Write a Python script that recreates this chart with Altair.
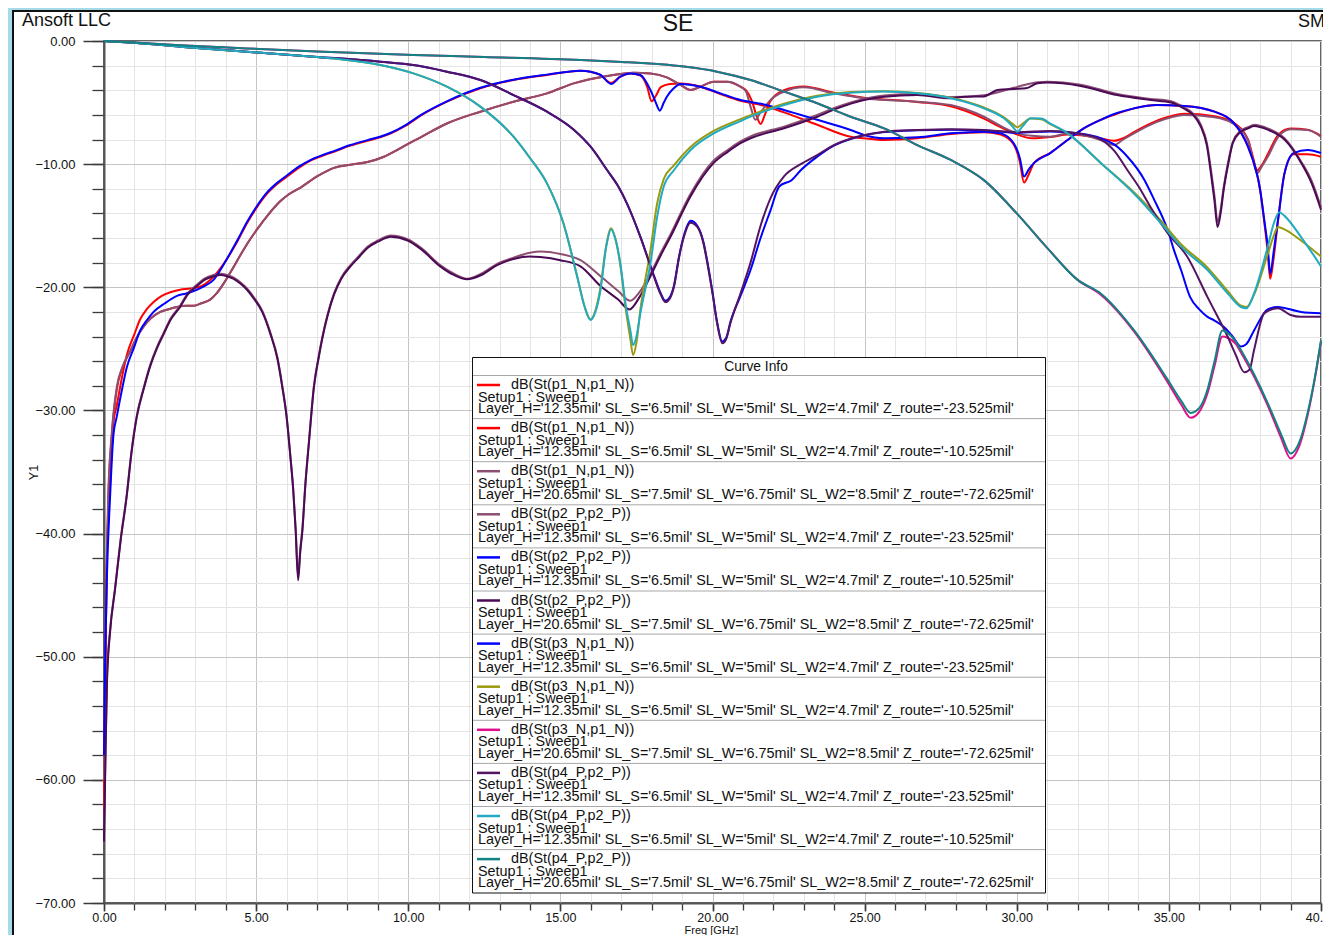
import altair as alt
import pandas as pd

# ---------------- text ----------------
HEADER_LEFT = "Ansoft LLC"
HEADER_TITLE = "SE"
HEADER_RIGHT = "SMA"
X_TITLE = "Freq [GHz]"
Y_TITLE = "Y1"
LEGEND_TITLE = "Curve Info"

X_MAJOR = [0, 5, 10, 15, 20, 25, 30, 35, 40]
X_MINOR = list(range(0, 41))
Y_MAJOR = [-70, -60, -50, -40, -30, -20, -10, 0]
Y_MINOR = list(range(-70, 1, 2))

# ---------------- curves: (freq GHz, dB) ----------------
RED_1 = [(0,-63),(0.04,-52),(0.14,-37.5),(0.25,-32.3),(0.42,-28.3),(0.6,-26.6),(0.86,-25.2),(1.05,-24.2),(1.3,-23.2),(1.55,-22.5),(1.85,-22.0),(2.1,-21.8),(2.4,-21.6),(2.7,-21.5),(2.95,-21.5),(3.2,-21.3),(3.49,-21.0),(3.7,-20.5),(3.93,-19.7),(4.2,-18.6),(4.48,-17.4),(4.75,-16.3),(5.03,-15.3),(5.4,-14.1),(5.8,-13.0),(6.1,-12.4),(6.46,-11.9),(7.0,-11.0),(7.56,-10.3),(8.1,-10.05),(8.66,-9.83),(9.2,-9.4),(9.6,-8.9),(9.98,-8.37),(10.42,-7.8),(11.27,-6.7),(12.37,-5.74),(13.46,-4.93),(14.56,-4.25),(15.44,-3.44),(16.54,-2.84),(17.41,-2.57),(17.96,-2.63),(18.5,-2.95),(18.95,-3.57),(19.28,-3.98),(19.6,-3.71),(20.04,-3.3),(20.48,-3.3),(20.92,-3.71),(21.1,-4.0),(21.3,-4.9),(21.45,-6.1),(21.58,-6.74),(21.72,-6.0),(21.9,-4.9),(22.35,-4.0),(23.0,-3.7),(23.99,-4.2),(24.98,-4.6),(26.73,-4.95),(27.83,-5.3),(28.92,-6.3),(29.47,-7.0),(30.02,-7.6),(30.5,-7.9),(31.1,-7.8),(31.7,-7.6),(32.76,-7.9),(33.2,-8.1),(33.5,-7.9),(33.85,-7.4),(34.63,-6.45),(35.5,-5.9),(36.5,-6.1),(37.1,-6.6),(37.6,-8.0),(37.75,-9.3),(37.9,-10.5),(38.05,-10.1),(38.25,-9.2),(38.6,-7.6),(39.0,-7.1),(39.56,-7.2),(40,-7.7)]

RED_2 = [(0,-62),(0.04,-52),(0.09,-42.7),(0.2,-36),(0.31,-31.0),(0.42,-29.6),(0.6,-27.2),(0.75,-25.5),(1.0,-23.8),(1.19,-22.6),(1.4,-21.8),(1.63,-21.2),(1.9,-20.7),(2.18,-20.4),(2.5,-20.2),(2.84,-20.1),(3.2,-19.9),(3.49,-19.4),(3.75,-18.7),(4.04,-17.7),(4.4,-16.2),(4.7,-14.8),(5.0,-13.6),(5.36,-12.4),(5.7,-11.6),(6.02,-11.0),(6.4,-10.3),(6.8,-9.7),(7.2,-9.3),(7.6,-8.95),(8.1,-8.5),(8.66,-8.1),(9.1,-7.8),(9.43,-7.5),(9.9,-6.9),(10.42,-6.05),(11.27,-4.93),(12.37,-3.84),(13.46,-3.17),(14.56,-2.76),(15.66,-2.41),(15.99,-2.49),(16.32,-2.76),(16.67,-3.4),(16.97,-2.9),(17.3,-2.63),(17.63,-2.8),(17.85,-3.7),(18.0,-4.9),(18.15,-4.4),(18.3,-3.75),(18.6,-3.5),(18.95,-3.45),(19.6,-3.71),(20.26,-4.3),(20.92,-4.85),(21.6,-5.2),(22.35,-5.8),(23.44,-6.8),(24.54,-7.77),(24.98,-7.9),(25.64,-8.04),(26.73,-7.9),(27.83,-7.55),(28.92,-7.4),(29.47,-7.6),(29.9,-8.4),(30.1,-9.8),(30.24,-11.5),(30.4,-10.8),(30.57,-9.9),(31.1,-9.1),(31.67,-8.04),(32.2,-7.1),(32.76,-6.4),(33.3,-5.9),(33.86,-5.47),(34.6,-5.2),(35.5,-5.28),(36.5,-5.74),(37.15,-6.7),(37.6,-8.58),(38.0,-12.1),(38.15,-15.0),(38.25,-17.2),(38.33,-19.3),(38.45,-17.5),(38.6,-14.3),(38.8,-10.75),(39.1,-9.2),(39.56,-9.2),(40,-9.4)]

MAUVE_3 = [(0,-64),(0.05,-57.5),(0.1,-51.5),(0.2,-47.8),(0.36,-44.5),(0.55,-40.4),(0.75,-36.8),(0.9,-33.4),(1.08,-30.4),(1.3,-28.2),(1.52,-26.3),(1.75,-24.8),(1.96,-23.7),(2.2,-22.5),(2.5,-21.5),(2.75,-20.5),(3.05,-19.8),(3.3,-19.3),(3.6,-19.0),(3.85,-18.9),(4.04,-19.0),(4.25,-19.2),(4.48,-19.6),(4.7,-20.1),(4.92,-20.8),(5.2,-21.9),(5.47,-23.7),(5.7,-25.7),(5.86,-28.0),(6.0,-30.4),(6.13,-33.8),(6.22,-36.4),(6.3,-39.6),(6.38,-43.5),(6.45,-41.3),(6.52,-39.6),(6.62,-35.9),(6.74,-32.4),(6.9,-28.0),(7.05,-25.7),(7.18,-24.0),(7.35,-22.2),(7.56,-20.5),(7.8,-19.2),(8.1,-18.2),(8.4,-17.4),(8.66,-16.7),(9.0,-16.2),(9.43,-15.8),(9.98,-16.1),(10.42,-16.8),(11.05,-18.2),(11.5,-18.9),(11.93,-19.3),(12.4,-18.9),(12.92,-18.1),(13.46,-17.6),(14.0,-17.2),(14.34,-17.1),(15.0,-17.3),(15.66,-17.8),(16.32,-19.1),(16.9,-20.3),(17.3,-21.1),(17.6,-20.4),(17.96,-18.9),(18.3,-17.2),(18.62,-15.7),(19.28,-12.4),(20.04,-9.7),(20.5,-8.85),(20.92,-8.15),(21.25,-7.75),(22.35,-6.95),(23.44,-6.0),(24.1,-5.35),(24.98,-4.7),(25.64,-4.42),(26.73,-4.3),(27.83,-4.55),(28.92,-4.4),(29.9,-3.8),(30.68,-3.35),(31.0,-3.3),(32.1,-3.55),(33.3,-4.3),(34.4,-4.7),(35.07,-4.9),(35.5,-5.4),(35.8,-5.9),(36.05,-6.8),(36.25,-8.3),(36.38,-10.4),(36.5,-12.6),(36.6,-14.7),(36.7,-13.7),(36.8,-11.9),(36.95,-9.8),(37.1,-8.2),(37.35,-7.3),(37.6,-7.0),(37.8,-6.8),(38.25,-7.1),(38.8,-7.9),(39.35,-9.8),(39.7,-11.4),(40,-13.5)]

MAUVE_4 = [(0,-60),(0.04,-50),(0.14,-36.9),(0.25,-32),(0.42,-28.1),(0.6,-26.5),(0.86,-25.2),(1.05,-24.2),(1.3,-23.2),(1.55,-22.5),(1.85,-22.0),(2.1,-21.8),(2.4,-21.6),(2.7,-21.5),(2.95,-21.5),(3.2,-21.3),(3.49,-21.0),(3.7,-20.5),(3.93,-19.7),(4.2,-18.6),(4.48,-17.4),(4.75,-16.3),(5.03,-15.3),(5.4,-14.1),(5.8,-13.0),(6.1,-12.4),(6.46,-11.9),(7.0,-11.0),(7.56,-10.3),(8.1,-10.05),(8.66,-9.83),(9.2,-9.4),(9.6,-8.9),(9.98,-8.37),(10.42,-7.8),(11.27,-6.7),(12.37,-5.74),(13.46,-4.93),(14.56,-4.25),(15.44,-3.44),(16.54,-2.84),(17.41,-2.57),(17.96,-2.63),(18.5,-2.95),(18.95,-3.57),(19.28,-3.98),(19.6,-3.71),(20.04,-3.3),(20.48,-3.3),(20.92,-3.71),(21.1,-4.1),(21.25,-5.33),(21.41,-6.4),(21.55,-5.9),(21.7,-5.4),(21.9,-4.8),(22.35,-4.11),(23.0,-3.76),(23.99,-4.25),(24.98,-4.65),(26.73,-4.93),(27.83,-5.2),(28.92,-6.15),(29.47,-6.9),(30.02,-7.5),(30.5,-7.7),(31.1,-7.77),(31.7,-7.5),(32.76,-8.04),(33.2,-8.45),(33.5,-8.0),(33.85,-7.5),(34.63,-6.55),(35.5,-6.0),(36.5,-6.2),(37.1,-6.7),(37.6,-8.04),(37.75,-9.5),(37.9,-10.75),(38.05,-10.2),(38.25,-9.4),(38.6,-7.77),(39.0,-7.17),(39.56,-7.23),(40,-7.77)]

BLUE_5 = [(0,-58),(0.04,-50),(0.09,-44),(0.2,-37),(0.31,-32),(0.42,-30.5),(0.6,-28.2),(0.75,-26.5),(1.0,-24.8),(1.19,-23.5),(1.4,-22.7),(1.63,-22.0),(2.0,-21.3),(2.4,-20.7),(2.7,-20.5),(3.05,-20.2),(3.3,-19.9),(3.6,-19.4),(3.8,-18.7),(4.04,-17.7),(4.4,-16.1),(4.7,-14.7),(5.0,-13.5),(5.36,-12.3),(5.7,-11.5),(6.02,-10.9),(6.4,-10.2),(6.8,-9.65),(7.2,-9.25),(7.6,-8.9),(8.1,-8.45),(8.66,-8.05),(9.1,-7.75),(9.43,-7.45),(9.9,-6.85),(10.42,-6.0),(11.27,-4.9),(12.37,-3.8),(13.46,-3.14),(14.56,-2.73),(15.66,-2.41),(15.99,-2.49),(16.32,-2.76),(16.67,-3.49),(16.97,-2.9),(17.3,-2.63),(17.63,-2.76),(17.96,-3.98),(18.12,-4.9),(18.27,-5.66),(18.4,-5.0),(18.5,-4.52),(18.7,-3.9),(18.95,-3.49),(19.6,-3.71),(20.26,-4.25),(20.92,-4.79),(21.6,-5.1),(22.35,-5.6),(23.44,-6.4),(24.54,-7.23),(24.98,-7.63),(25.64,-7.9),(26.73,-7.82),(27.83,-7.5),(28.92,-7.36),(29.47,-7.5),(29.9,-8.3),(30.1,-9.5),(30.24,-11.0),(30.4,-10.4),(30.57,-9.9),(31.1,-9.1),(31.67,-8.04),(32.2,-7.1),(32.76,-6.4),(33.3,-5.85),(33.86,-5.47),(34.6,-5.2),(35.5,-5.28),(36.5,-5.74),(37.15,-6.7),(37.6,-8.58),(38.0,-12.1),(38.15,-14.8),(38.25,-16.7),(38.33,-18.9),(38.45,-17.0),(38.6,-14.3),(38.8,-10.75),(39.1,-9.1),(39.56,-8.85),(40,-9.1)]

PURPLE_6 = [(0,-65),(0.05,-58),(0.1,-52),(0.2,-48),(0.36,-44.6),(0.55,-40.5),(0.75,-36.9),(0.9,-33.5),(1.08,-30.5),(1.3,-28.3),(1.52,-26.4),(1.75,-24.9),(1.96,-23.8),(2.2,-22.6),(2.5,-21.6),(2.75,-20.6),(3.05,-19.9),(3.3,-19.4),(3.6,-19.1),(3.85,-19.0),(4.04,-19.1),(4.25,-19.3),(4.48,-19.7),(4.7,-20.2),(4.92,-20.9),(5.2,-22.0),(5.47,-23.8),(5.7,-25.8),(5.86,-28.1),(6.0,-30.5),(6.13,-33.9),(6.22,-36.5),(6.3,-39.8),(6.38,-43.8),(6.45,-41.5),(6.52,-39.8),(6.62,-36.0),(6.74,-32.5),(6.9,-28.1),(7.05,-25.8),(7.18,-24.1),(7.35,-22.3),(7.56,-20.6),(7.8,-19.3),(8.1,-18.3),(8.4,-17.5),(8.66,-16.8),(9.0,-16.3),(9.43,-15.9),(9.98,-16.2),(10.42,-16.9),(11.05,-18.3),(11.5,-19.0),(11.93,-19.35),(12.4,-19.0),(12.92,-18.2),(13.46,-17.7),(14.0,-17.5),(14.34,-17.55),(15.0,-17.8),(15.66,-18.3),(16.32,-19.9),(16.9,-21.0),(17.27,-21.8),(17.6,-20.8),(17.96,-19.1),(18.3,-17.4),(18.62,-15.9),(19.28,-12.6),(20.04,-9.9),(20.5,-9.0),(20.92,-8.3),(21.25,-7.9),(22.35,-7.09),(23.44,-6.15),(24.1,-5.47),(24.98,-4.79),(25.64,-4.52),(26.73,-4.39),(27.83,-4.65),(28.27,-4.52),(28.92,-4.5),(29.37,-3.98),(29.9,-3.9),(30.3,-3.84),(30.68,-3.44),(31.0,-3.38),(32.1,-3.65),(33.3,-4.39),(34.4,-4.79),(35.07,-5.0),(35.5,-5.5),(35.8,-6.0),(36.05,-6.96),(36.25,-8.5),(36.38,-10.7),(36.5,-13.0),(36.6,-15.1),(36.7,-14.0),(36.8,-12.1),(36.95,-10.0),(37.1,-8.3),(37.35,-7.4),(37.6,-7.1),(37.8,-6.9),(38.25,-7.2),(38.8,-8.0),(39.35,-9.9),(39.7,-11.6),(40,-13.7)]

BLUE_7 = [(0,0),(1.0,-0.15),(2.5,-0.46),(4.69,-0.87),(6.89,-1.27),(9.08,-1.68),(10.17,-1.95),(11.27,-2.49),(12.37,-3.17),(13.46,-4.39),(14.56,-5.74),(15.44,-7.2),(16.0,-8.6),(16.54,-10.5),(16.9,-11.8),(17.19,-13.2),(17.63,-15.9),(18.07,-19.0),(18.3,-20.5),(18.45,-21.1),(18.6,-20.8),(18.73,-19.9),(18.9,-17.5),(19.06,-15.8),(19.28,-14.6),(19.5,-15.0),(19.7,-16.3),(19.83,-17.9),(20.0,-20.4),(20.15,-22.8),(20.32,-24.4),(20.45,-24.1),(20.59,-22.8),(20.92,-20.7),(21.25,-18.6),(21.58,-16.0),(21.9,-13.8),(22.2,-11.8),(22.6,-11.3),(22.9,-10.5),(23.44,-9.4),(23.99,-8.5),(24.76,-7.8),(25.64,-7.4),(26.73,-7.25),(27.83,-7.2),(28.92,-7.25),(30.02,-7.45),(31.1,-7.35),(32.0,-7.5),(32.76,-7.9),(33.2,-8.4),(33.64,-9.4),(34.2,-11.3),(34.5,-12.8),(34.96,-15.35),(35.17,-17.0),(35.4,-18.6),(35.7,-20.8),(36.0,-21.8),(36.27,-22.4),(36.5,-22.7),(36.8,-23.2),(37.1,-24.0),(37.37,-24.8),(37.55,-24.6),(37.8,-23.5),(38.25,-21.8),(38.57,-21.6),(39.34,-22.0),(40,-22.1)]

OLIVE_8 = [(0,0),(1.0,-0.15),(2.5,-0.46),(4.69,-0.87),(7.0,-1.3),(7.98,-1.54),(9.08,-1.95),(10.17,-2.63),(11.27,-3.71),(12.37,-5.33),(13.46,-7.77),(14.0,-9.5),(14.56,-11.56),(15.1,-14.8),(15.55,-19.1),(15.8,-21.6),(15.99,-22.6),(16.15,-21.9),(16.32,-20.0),(16.5,-16.7),(16.67,-15.2),(16.8,-16.0),(16.97,-18.2),(17.15,-21.8),(17.3,-24.2),(17.39,-25.5),(17.5,-24.5),(17.63,-21.8),(17.96,-17.0),(18.18,-13.2),(18.4,-11.2),(18.73,-10.1),(19.28,-8.6),(20.04,-7.3),(20.92,-6.35),(21.5,-5.8),(22.35,-5.1),(23.44,-4.45),(24.54,-4.15),(25.64,-4.08),(26.73,-4.22),(27.83,-4.6),(28.92,-5.4),(29.58,-6.2),(29.85,-6.7),(30.02,-7.0),(30.2,-6.7),(30.46,-6.3),(30.8,-6.35),(31.1,-6.75),(31.67,-7.5),(32.76,-9.9),(33.86,-12.3),(34.74,-14.6),(35.4,-16.5),(36.27,-18.4),(36.93,-20.3),(37.37,-21.5),(37.55,-21.6),(37.8,-20.6),(38.25,-17.3),(38.45,-15.8),(38.58,-15.1),(38.8,-15.3),(39.34,-16.2),(40,-17.5)]

PINK_9 = [(0,0),(1.0,-0.12),(2.5,-0.35),(4.69,-0.6),(7.0,-0.85),(10.17,-1.14),(12.5,-1.3),(15.66,-1.54),(16.86,-1.68),(19.06,-2.08),(20.15,-2.49),(21.25,-3.17),(22.35,-4.11),(23.44,-5.06),(24.54,-6.15),(25.64,-7.09),(26.73,-8.45),(27.83,-9.66),(28.92,-11.3),(30.0,-14.0),(31.0,-16.8),(32.0,-19.4),(32.76,-20.6),(33.86,-23.6),(34.96,-27.7),(35.4,-29.5),(35.72,-30.6),(36.0,-30.1),(36.27,-28.6),(36.5,-26.4),(36.76,-24.0),(36.93,-24.1),(37.2,-24.6),(37.37,-25.3),(38.25,-29.6),(38.7,-32.3),(39.0,-33.9),(39.3,-32.8),(39.56,-30.4),(39.8,-27.4),(40,-24.4)]

PURPLE_10 = [(0,0),(1.0,-0.15),(2.5,-0.46),(4.69,-0.87),(6.89,-1.27),(9.08,-1.68),(10.17,-1.95),(11.27,-2.49),(12.37,-3.17),(13.46,-4.39),(14.56,-5.74),(15.44,-7.2),(16.0,-8.6),(16.54,-10.5),(16.9,-11.8),(17.19,-13.2),(17.63,-15.9),(18.07,-19.1),(18.3,-20.6),(18.45,-21.2),(18.6,-20.9),(18.73,-20.0),(18.9,-17.6),(19.06,-15.9),(19.28,-14.75),(19.5,-15.1),(19.7,-16.4),(19.83,-18.05),(20.0,-20.5),(20.15,-22.9),(20.32,-24.55),(20.45,-24.2),(20.59,-22.9),(20.92,-20.5),(21.25,-18.0),(21.58,-15.0),(21.9,-12.8),(22.35,-11.0),(22.9,-10.0),(23.44,-9.26),(23.99,-8.45),(24.76,-7.77),(25.64,-7.36),(26.73,-7.23),(27.83,-7.17),(28.92,-7.23),(30.02,-7.4),(31.1,-7.3),(32.0,-7.5),(32.76,-8.0),(33.2,-8.9),(33.64,-10.5),(34.0,-11.8),(34.4,-13.5),(34.96,-15.6),(35.6,-17.5),(36.27,-20.8),(36.93,-24.0),(37.2,-25.5),(37.48,-26.9),(37.65,-26.7),(37.8,-25.1),(38.14,-22.1),(38.58,-21.7),(39.0,-22.25),(39.34,-22.4),(40,-22.4)]

CYAN_11 = [(0,0),(1.0,-0.15),(2.5,-0.46),(4.69,-0.87),(7.0,-1.3),(7.98,-1.54),(9.08,-1.95),(10.17,-2.63),(11.27,-3.71),(12.37,-5.33),(13.46,-7.77),(14.0,-9.5),(14.56,-11.56),(15.1,-14.8),(15.55,-19.1),(15.8,-21.6),(15.99,-22.66),(16.15,-22.0),(16.32,-20.2),(16.5,-16.8),(16.67,-15.3),(16.8,-16.0),(16.97,-18.05),(17.15,-21.5),(17.3,-23.5),(17.39,-24.7),(17.5,-24.0),(17.63,-22.1),(17.96,-18.05),(18.18,-14.3),(18.4,-11.8),(18.73,-10.5),(19.28,-8.85),(20.04,-7.5),(20.92,-6.5),(21.5,-5.9),(22.35,-5.2),(23.44,-4.52),(24.54,-4.2),(25.64,-4.11),(26.73,-4.25),(27.83,-4.65),(28.92,-5.47),(29.58,-6.28),(29.85,-6.9),(30.02,-7.36),(30.2,-6.9),(30.46,-6.28),(30.8,-6.3),(31.1,-6.7),(31.67,-7.5),(32.76,-9.9),(33.86,-12.4),(34.74,-14.8),(35.4,-16.7),(36.27,-18.6),(36.93,-20.5),(37.37,-21.6),(37.55,-21.7),(37.8,-20.5),(38.25,-16.7),(38.45,-14.8),(38.63,-13.9),(38.8,-14.2),(39.34,-15.9),(40,-18.3)]

TEAL_12 = [(0,0),(1.0,-0.12),(2.5,-0.35),(4.69,-0.6),(7.0,-0.85),(10.17,-1.14),(12.5,-1.3),(15.66,-1.54),(16.86,-1.68),(19.06,-2.08),(20.15,-2.49),(21.25,-3.17),(22.35,-4.11),(23.44,-5.06),(24.54,-6.15),(25.64,-7.09),(26.73,-8.45),(27.83,-9.66),(28.92,-11.3),(30.0,-14.0),(31.0,-16.8),(32.0,-19.4),(32.76,-20.5),(33.86,-23.5),(34.96,-27.5),(35.4,-29.2),(35.72,-30.2),(36.0,-29.8),(36.27,-28.3),(36.5,-26.0),(36.76,-23.5),(36.93,-23.7),(37.2,-24.4),(37.37,-25.1),(38.25,-29.4),(38.7,-32.0),(39.0,-33.5),(39.3,-32.5),(39.56,-30.2),(39.8,-27.3),(40,-24.3)]

CURVES = [RED_1, RED_2, MAUVE_3, MAUVE_4, BLUE_5, PURPLE_6, BLUE_7, OLIVE_8, PINK_9, PURPLE_10, CYAN_11, TEAL_12]
COLORS = ["#ff0000", "#ff0000", "#8c4f72", "#8c4f72", "#0000ff", "#4a0a55",
          "#0000ff", "#9a9a10", "#e0108c", "#551462", "#22aac2", "#128282"]

# ---------------- legend text ----------------
P23 = "Layer_H='12.35mil' SL_S='6.5mil' SL_W='5mil' SL_W2='4.7mil' Z_route='-23.525mil'"
P10 = "Layer_H='12.35mil' SL_S='6.5mil' SL_W='5mil' SL_W2='4.7mil' Z_route='-10.525mil'"
P72 = "Layer_H='20.65mil' SL_S='7.5mil' SL_W='6.75mil' SL_W2='8.5mil' Z_route='-72.625mil'"
TRACE_NAMES = ["dB(St(p1_N,p1_N))"] * 3 + ["dB(St(p2_P,p2_P))"] * 3 + \
              ["dB(St(p3_N,p1_N))"] * 3 + ["dB(St(p4_P,p2_P))"] * 3
PARAMS = [P23, P10, P72] * 4
SETUP = "Setup1 : Sweep1"

FONT = "Liberation Sans"
LEG_FS = 14.4

# ---------------- chart ----------------
x_scale = alt.Scale(domain=[0, 40], nice=False, zero=False)
y_scale = alt.Scale(domain=[-70, 0], nice=False, zero=False)


def curve_df(pts):
    return pd.DataFrame(pts, columns=["f", "db"])


layers = []

# minor grid / ticks
layers.append(
    alt.Chart(curve_df(CURVES[0])).mark_line(strokeOpacity=0).encode(
        x=alt.X("f:Q", scale=x_scale, axis=alt.Axis(
            orient="bottom", values=X_MINOR, grid=True, gridColor="#e4e4e4", gridWidth=1,
            labels=False, ticks=True, tickSize=7, tickColor="#3a3a3a", tickWidth=1.3,
            domain=False, title=None)),
        y=alt.Y("db:Q", scale=y_scale, axis=alt.Axis(
            orient="left", values=Y_MINOR, grid=True, gridColor="#e4e4e4", gridWidth=1,
            labels=False, ticks=True, tickSize=12, tickColor="#3a3a3a", tickWidth=1.3,
            domain=False, title=None)),
    )
)
# major grid, labels, titles
layers.append(
    alt.Chart(curve_df(CURVES[0])).mark_line(strokeOpacity=0).encode(
        x=alt.X("f:Q", scale=x_scale, axis=alt.Axis(
            orient="bottom", values=X_MAJOR, format=".2f", labelFlush=False,
            labelFontSize=12.5, labelColor="#111111", labelPadding=0, labelFont=FONT,
            grid=True, gridColor="#c4c4c4", gridWidth=1,
            tickSize=8, tickColor="#3a3a3a", tickWidth=1.5,
            domain=True, domainColor="#555555", domainWidth=2,
            title=X_TITLE, titleFontSize=11, titleFontWeight="normal", titleColor="#111111",
            titleFont=FONT, titleX=607, titleY=30.5, titleAlign="center",
            titleBaseline="alphabetic")),
        y=alt.Y("db:Q", scale=y_scale, axis=alt.Axis(
            orient="left", values=Y_MAJOR, format=".2f", labelFlush=False,
            labelFontSize=13, labelColor="#111111", labelPadding=8, labelFont=FONT,
            grid=True, gridColor="#c4c4c4", gridWidth=1,
            tickSize=21, tickColor="#3a3a3a", tickWidth=1.5,
            domain=True, domainColor="#555555", domainWidth=2,
            title=Y_TITLE, titleFontSize=12.5, titleFontWeight="normal", titleColor="#111111",
            titleFont=FONT, titleX=-71, titleY=431, titleAngle=270,
            titleAlign="center", titleBaseline="middle")),
    )
)

# curves
for pts, col in zip(CURVES, COLORS):
    layers.append(
        alt.Chart(curve_df(pts)).mark_line(color=col, strokeWidth=2, interpolate="monotone").encode(
            x=alt.X("f:Q", scale=x_scale, axis=None),
            y=alt.Y("db:Q", scale=y_scale, axis=None),
        )
    )

one = pd.DataFrame({"k": [0]})

# outer frame (blue strip + black border)
layers.append(alt.Chart(one).mark_rect(color="#a4dbe9").encode(
    x=alt.value(-96), x2=alt.value(1219), y=alt.value(-33), y2=alt.value(-31)))
layers.append(alt.Chart(one).mark_rect(color="#a4dbe9").encode(
    x=alt.value(-96), x2=alt.value(-92), y=alt.value(-33), y2=alt.value(894)))
layers.append(alt.Chart(one).mark_rule(color="#111111", strokeWidth=2).encode(
    x=alt.value(-92), x2=alt.value(1219), y=alt.value(-30)))
layers.append(alt.Chart(one).mark_rule(color="#111111", strokeWidth=2).encode(
    x=alt.value(-91), y=alt.value(-31), y2=alt.value(894)))

# header texts
layers.append(alt.Chart(pd.DataFrame({"t": [HEADER_LEFT]})).mark_text(
    align="left", baseline="alphabetic", fontSize=18, font=FONT, color="#111111").encode(
    x=alt.value(-82), y=alt.value(-15), text="t:N"))
layers.append(alt.Chart(pd.DataFrame({"t": [HEADER_TITLE]})).mark_text(
    align="center", baseline="alphabetic", fontSize=23, font=FONT, color="#111111").encode(
    x=alt.value(574), y=alt.value(-10), text="t:N"))
layers.append(alt.Chart(pd.DataFrame({"t": [HEADER_RIGHT]})).mark_text(
    align="left", baseline="alphabetic", fontSize=18, font=FONT, color="#111111").encode(
    x=alt.value(1194), y=alt.value(-14), text="t:N"))

# legend ("Curve Info")
leg_df = pd.DataFrame({"row": list(range(12)), "trace": TRACE_NAMES,
                       "setup": [SETUP] * 12, "params": PARAMS, "color": COLORS})
leg = alt.Chart(leg_df).transform_calculate(top="334.5 + 43.1 * datum.row")

layers.append(alt.Chart(one).mark_rect(fill="white", stroke="#111111", strokeWidth=1).encode(
    x=alt.value(368.5), x2=alt.value(941.5), y=alt.value(316.5), y2=alt.value(852)))
layers.append(alt.Chart(pd.DataFrame({"t": [LEGEND_TITLE]})).mark_text(
    align="center", baseline="middle", fontSize=13.8, font=FONT, color="#111111").encode(
    x=alt.value(652), y=alt.value(325.5), text="t:N"))
layers.append(leg.mark_rule(color="#a8a8a8", strokeWidth=1).encode(
    x=alt.value(369), x2=alt.value(941), y=alt.Y("top:Q", scale=None)))
layers.append(leg.transform_calculate(ys="datum.top + 9.5").mark_rule(strokeWidth=2.5).encode(
    x=alt.value(373), x2=alt.value(396), y=alt.Y("ys:Q", scale=None),
    color=alt.Color("color:N", scale=None)))
layers.append(leg.transform_calculate(ys="datum.top + 9.5").mark_text(
    align="left", baseline="middle", fontSize=LEG_FS, font=FONT, color="#111111").encode(
    x=alt.value(407), y=alt.Y("ys:Q", scale=None), text="trace:N"))
layers.append(leg.transform_calculate(ys="datum.top + 22").mark_text(
    align="left", baseline="middle", fontSize=LEG_FS, font=FONT, color="#111111").encode(
    x=alt.value(374), y=alt.Y("ys:Q", scale=None), text="setup:N"))
layers.append(leg.transform_calculate(ys="datum.top + 33.5").mark_text(
    align="left", baseline="middle", fontSize=LEG_FS, font=FONT, color="#111111").encode(
    x=alt.value(374), y=alt.Y("ys:Q", scale=None), text="params:N"))

chart = alt.layer(*layers).resolve_axis(x="independent", y="independent").properties(
    width=1217, height=862,
    padding={"left": 96, "top": 33, "right": 2, "bottom": 32},
    autosize=alt.AutoSizeParams(type="none"),
    background="white",
).configure(font=FONT).configure_view(stroke="#333333", strokeWidth=1.5)

chart.save("out.html", embed_options={"renderer": "svg", "actions": False})
